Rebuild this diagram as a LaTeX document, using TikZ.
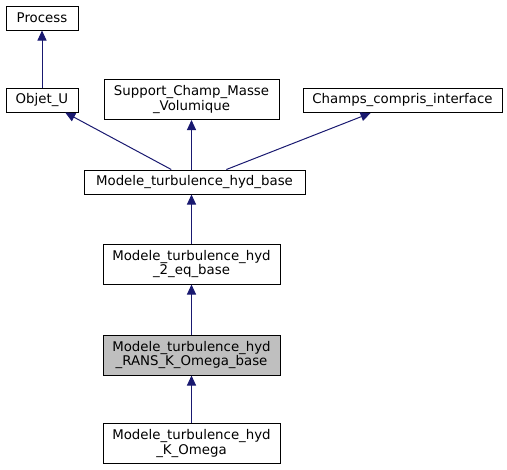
\documentclass[tikz,border=0pt]{standalone}
\usepackage{fontspec}
\setmainfont{DejaVu Sans}
\usetikzlibrary{arrows.meta}
\definecolor{edgeblue}{HTML}{191970}
\definecolor{focusgray}{HTML}{BFBFBF}

\begin{document}
\begin{tikzpicture}[x=0.75pt,y=-0.75pt]

  \tikzset{class node/.style={rectangle, draw, line width=0.75pt,
  		inner sep=0pt, align=center, font=\fontsize{10}{11}\selectfont}, }
  \tikzset{one line/.style={minimum height=18pt}, }
  \tikzset{two line/.style={minimum height=30pt}, }
  \tikzset{linea/.style={edgeblue, line width=0.75pt,
  		-{Triangle[length=7.5pt,width=6.75pt]}}, }

\useasboundingbox (0,0) rectangle (507,469);

\node[class node, one line, minimum width=54pt] (process) at (42,18) {Process};
\node[class node, one line, minimum width=54pt] (objet) at (42,100) {Objet\_U};
\node[class node, two line, minimum width=131.25pt] (support) at (191.5,99.5) {Support\_Champ\_Masse\\\_Volumique};
\node[class node, one line, minimum width=149.25pt] (champs) at (402.5,100.5) {Champs\_compris\_interface};
\node[class node, one line, minimum width=165.75pt] (base) at (194.5,182) {Modele\_turbulence\_hyd\_base};
\node[class node, two line, minimum width=132.75pt] (eq) at (191.5,264) {Modele\_turbulence\_hyd\\\_2\_eq\_base};
\node[class node, two line, minimum width=132.75pt, fill=focusgray] (rans) at (191.5,355) {Modele\_turbulence\_hyd\\\_RANS\_K\_Omega\_base};
\node[class node, two line, minimum width=132.75pt] (komega) at (191.5,443.5) {Modele\_turbulence\_hyd\\\_K\_Omega};

% straight up from the child
\foreach \x/\y in {objet/process,eq/base,rans/eq,komega/rans}
  \draw[linea] (\x.north) -- (\x.north |- \y.south);
% straight up to the parent
\draw[linea] (support.south |- base.north) -- (support.south);
% slanted, centre to centre
\foreach \x/\y in {base/objet,base/champs}
  \draw[linea] (\x) -- (\y);
%%
\end{tikzpicture}
\end{document}
